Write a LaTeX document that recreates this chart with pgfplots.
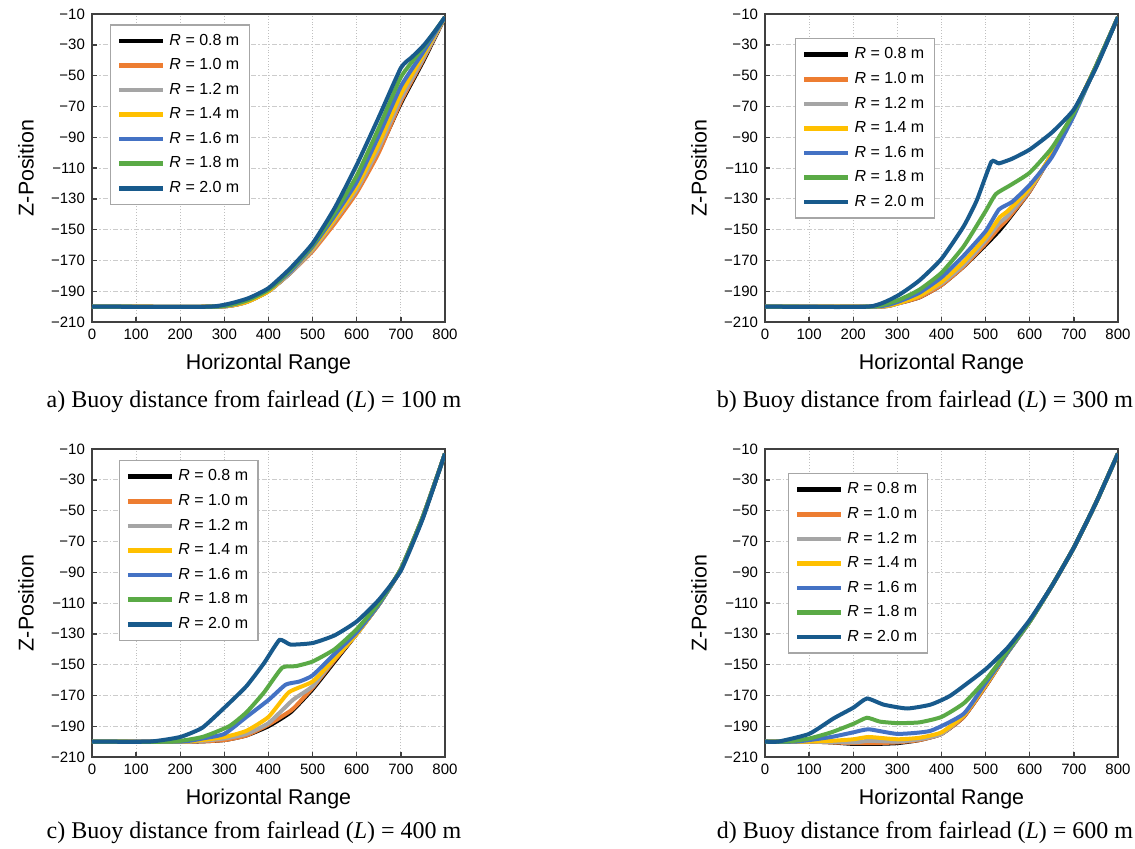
\documentclass[border=0pt]{standalone}
\usepackage{fontspec}
\setmainfont{Liberation Sans}
\newfontfamily\capfont{Liberation Serif}
\usepackage{pgfplots}
\pgfplotsset{compat=1.18}

\definecolor{cA}{HTML}{000000}
\definecolor{cB}{HTML}{ED7D31}
\definecolor{cC}{HTML}{A5A5A5}
\definecolor{cD}{HTML}{FFC000}
\definecolor{cE}{HTML}{4472C4}
\definecolor{cF}{HTML}{5AAA46}
\definecolor{cG}{HTML}{185A8C}

\pgfplotsset{
  legend image code/.code={\draw[#1, line width=2.4pt] (0pt,0pt) -- (22pt,0pt);},
  panel/.style={
    scale only axis, width=176.5pt, height=154pt,
    xmin=0, xmax=800, ymin=-210, ymax=-10,
    xtick={0,100,...,800}, ytick={-210,-190,...,-10},
    yticklabels={−210,−190,−170,−150,−130,−110,−90,−70,−50,−30,−10},
    /pgf/number format/assume math mode=true,
    tick label style={font=\fontsize{7.5}{9}\selectfont},
    label style={font=\fontsize{10.7}{12}\selectfont},
    xlabel={Horizontal Range}, ylabel={Z-Position},
    xlabel style={at={(axis description cs:0.5,0)}, anchor=center, yshift=-21pt},
    ylabel style={at={(axis description cs:-0.187,0.5)}, anchor=center},
    tick align=inside, xtick pos=bottom, ytick pos=left,
    major tick length=2.5pt,
    tick style={black!75, line width=0.7pt},
    axis line style={draw=black!75, line width=0.9pt},
    xmajorgrids, ymajorgrids,
    x grid style={gray!50, densely dotted, line width=0.5pt},
    y grid style={gray!40, dash pattern=on 2.5pt off 1pt on 0.8pt off 1pt, line width=0.5pt},
    every axis plot/.append style={line width=2pt, smooth, tension=0.3},
    legend style={anchor=north west, draw=gray!70, line width=0.7pt, fill=white,
      font=\fontsize{8}{9.5}\selectfont, row sep=1.2pt, inner xsep=3pt, inner ysep=2.5pt},
    legend cell align=left,
  },
}

\newcommand{\rlegend}{\legend{\textit{R} = 0.8 m, \textit{R} = 1.0 m, \textit{R} = 1.2 m, \textit{R} = 1.4 m, \textit{R} = 1.6 m, \textit{R} = 1.8 m, \textit{R} = 2.0 m}}

\begin{document}
\begin{tikzpicture}
\useasboundingbox (0,0) rectangle (567.5pt,424pt);

% a) L = 100 m
\begin{axis}[panel, at={(46pt,263pt)}, anchor=south west,
  legend style={at={(axis description cs:0.051,0.967)}}]
\addplot[cA] coordinates {(0,-200)(290,-200)(350,-197)(400,-190)(450,-178)(500,-163)(550,-145)(600,-125)(650,-99)(700,-68)(750,-41)(800,-12)};
\addplot[cB] coordinates {(0,-200)(290,-200)(350,-197)(400,-190)(450,-178)(500,-164)(550,-146)(600,-126)(650,-100)(700,-67)(750,-40)(800,-12)};
\addplot[cC] coordinates {(0,-200)(290,-200)(350,-197)(400,-190)(450,-178)(500,-163)(550,-144)(600,-124)(650,-97)(700,-65)(750,-39)(800,-12)};
\addplot[cD] coordinates {(0,-200)(288,-200)(350,-197)(400,-190)(450,-177)(500,-162)(550,-143)(600,-122)(650,-94)(700,-62)(750,-37)(800,-12)};
\addplot[cE] coordinates {(0,-200)(285,-200)(350,-196)(400,-189)(450,-177)(500,-161)(550,-141)(600,-119)(650,-89)(700,-57)(750,-35)(800,-12)};
\addplot[cF] coordinates {(0,-200)(280,-200)(350,-196)(400,-189)(450,-176)(500,-160)(550,-139)(600,-115)(650,-84)(700,-51)(750,-32)(800,-12)};
\addplot[cG] coordinates {(0,-200)(270,-200)(350,-195)(400,-188)(450,-175)(500,-159)(550,-136)(600,-108)(650,-77)(700,-45)(725,-38)(750,-31)(775,-22)(800,-12)};
\rlegend
\end{axis}

% b) L = 300 m
\begin{axis}[panel, at={(382.5pt,263pt)}, anchor=south west,
  legend style={at={(axis description cs:0.085,0.922)}}]
\addplot[cA] coordinates {(0,-200)(260,-200)(300,-198)(350,-194)(400,-186)(450,-174)(500,-160)(530,-151)(550,-144)(600,-125)(650,-101)(700,-74)(750,-44)(800,-12)};
\addplot[cB] coordinates {(0,-200)(260,-200)(300,-198)(350,-194)(400,-186)(450,-174)(500,-159)(530,-149)(550,-143)(600,-125)(650,-101)(700,-74)(750,-44)(800,-12)};
\addplot[cC] coordinates {(0,-200)(258,-200)(300,-198)(350,-193)(400,-185)(450,-173)(500,-157)(530,-146)(550,-141)(600,-124)(650,-101)(700,-74)(750,-44)(800,-12)};
\addplot[cD] coordinates {(0,-200)(255,-200)(300,-198)(350,-193)(400,-184)(450,-171)(500,-155)(532,-142)(550,-138)(600,-123)(650,-101)(700,-74)(750,-44)(800,-12)};
\addplot[cE] coordinates {(0,-200)(250,-200)(300,-197)(350,-191)(400,-181)(450,-167)(500,-151)(530,-137)(560,-132)(600,-121)(650,-103)(700,-76)(750,-44)(800,-12)};
\addplot[cF] coordinates {(0,-200)(240,-200)(300,-196)(350,-189)(400,-178)(450,-161)(500,-138)(523,-127)(557,-121)(600,-113)(650,-97)(700,-74)(750,-44)(800,-12)};
\addplot[cG] coordinates {(0,-200)(235,-200)(300,-193)(350,-183)(400,-169)(450,-148)(480,-131)(513,-106)(530,-107)(560,-104)(600,-98)(650,-87)(700,-72)(750,-45)(800,-12)};
\rlegend
\end{axis}

% c) L = 400 m
\begin{axis}[panel, at={(46pt,45.5pt)}, anchor=south west,
  legend style={at={(axis description cs:0.076,0.964)}}]
\addplot[cA] coordinates {(0,-200)(230,-200)(300,-199)(350,-196)(400,-190)(450,-181)(500,-166)(550,-148)(600,-130)(650,-111)(700,-88)(750,-54)(800,-13)};
\addplot[cB] coordinates {(0,-200)(225,-200)(300,-199)(350,-196)(400,-189)(450,-180)(465,-176)(500,-165)(550,-147)(600,-130)(650,-111)(700,-88)(750,-54)(800,-13)};
\addplot[cC] coordinates {(0,-200)(220,-200)(300,-198)(350,-195)(400,-188)(455,-173)(500,-164)(550,-146)(600,-130)(650,-111)(700,-88)(750,-54)(800,-13)};
\addplot[cD] coordinates {(0,-200)(210,-200)(300,-197)(350,-193)(400,-184)(446,-168)(500,-161)(550,-146)(600,-130)(650,-111)(700,-88)(750,-54)(800,-13)};
\addplot[cE] coordinates {(0,-200)(200,-200)(250,-198)(300,-195)(350,-184)(400,-173)(439,-163)(470,-161)(500,-157)(550,-143)(600,-129)(650,-111)(700,-88)(750,-54)(800,-13)};
\addplot[cF] coordinates {(0,-200)(180,-200)(250,-197)(311,-190)(350,-181)(390,-168)(431,-152)(462,-151)(500,-148)(550,-140)(600,-127)(650,-110)(700,-88)(750,-54)(800,-13)};
\addplot[cG] coordinates {(0,-200)(130,-200)(200,-197)(250,-191)(300,-178)(350,-164)(390,-149)(425,-134)(450,-137)(500,-136)(550,-131)(600,-122)(650,-108)(700,-89)(750,-55)(800,-13)};
\rlegend
\end{axis}

% d) L = 600 m
\begin{axis}[panel, at={(382.5pt,45.5pt)}, anchor=south west,
  legend style={at={(axis description cs:0.065,0.922)}}]
\addplot[cA] coordinates {(0,-200)(100,-200)(150,-200.5)(200,-201.5)(250,-201.5)(300,-201)(350,-199)(400,-195)(450,-184)(500,-164)(550,-142)(600,-122)(650,-99)(700,-74)(750,-45)(800,-13)};
\addplot[cB] coordinates {(0,-200)(100,-200)(150,-200.5)(200,-201)(250,-201)(300,-200.5)(350,-199)(400,-195)(450,-184)(500,-164)(550,-142)(600,-122)(650,-99)(700,-74)(750,-45)(800,-13)};
\addplot[cC] coordinates {(0,-200)(100,-200)(200,-200.5)(235,-199.5)(300,-200)(350,-198.5)(400,-195)(450,-183)(500,-163)(550,-142)(600,-122)(650,-99)(700,-74)(750,-45)(800,-13)};
\addplot[cD] coordinates {(0,-200)(90,-200)(150,-199.5)(200,-198.5)(235,-197)(300,-198.5)(350,-197.5)(400,-194)(450,-183)(500,-163)(550,-142)(600,-122)(650,-99)(700,-74)(750,-45)(800,-13)};
\addplot[cE] coordinates {(0,-200)(70,-200)(150,-197)(200,-194)(235,-192)(300,-195)(375,-193)(450,-182)(500,-162)(550,-142)(600,-122)(650,-99)(700,-74)(750,-45)(800,-13)};
\addplot[cF] coordinates {(0,-200)(50,-200)(100,-198)(150,-194)(200,-188.5)(231,-184.5)(260,-187)(300,-188)(350,-187.5)(400,-184)(451,-175)(500,-160)(550,-141)(600,-122)(650,-99)(700,-74)(750,-45)(800,-13)};
\addplot[cG] coordinates {(0,-200)(30,-200)(100,-195)(155,-185)(200,-178)(231,-172)(269,-176)(322,-178.5)(375,-176)(421,-170)(500,-153)(550,-139)(600,-121)(650,-99)(700,-74)(750,-45)(800,-13)};
\rlegend
\end{axis}

\node[anchor=base, font=\capfont\fontsize{12}{14}\selectfont] at (127pt,220.5pt) {a) Buoy distance from fairlead (\textit{L}) = 100 m};
\node[anchor=base, font=\capfont\fontsize{12}{14}\selectfont] at (462.5pt,220.5pt) {b) Buoy distance from fairlead (\textit{L}) = 300 m};
\node[anchor=base, font=\capfont\fontsize{12}{14}\selectfont] at (127pt,5pt) {c) Buoy distance from fairlead (\textit{L}) = 400 m};
\node[anchor=base, font=\capfont\fontsize{12}{14}\selectfont] at (462.5pt,5pt) {d) Buoy distance from fairlead (\textit{L}) = 600 m};
\end{tikzpicture}
\end{document}
